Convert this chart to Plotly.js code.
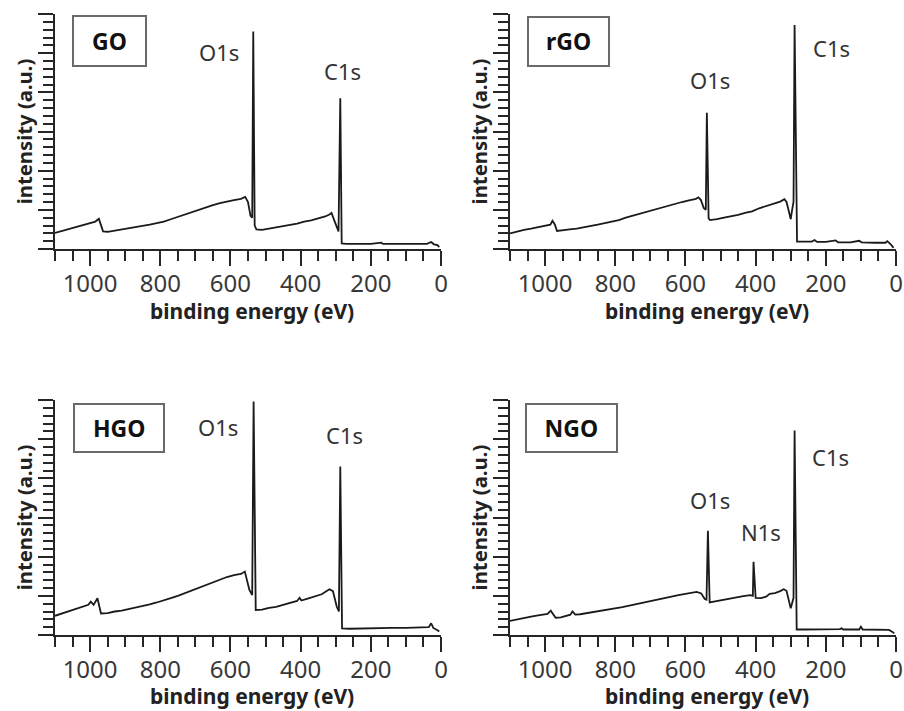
<!DOCTYPE html>
<html>
<head>
<meta charset="utf-8">
<script src="https://cdn.plot.ly/plotly-3.0.1.min.js"></script>
<style>html,body{margin:0;padding:0;background:#fff;}#chart{width:904px;height:711px;}</style>
</head>
<body>
<div id="chart"></div>
<script>
// ---- data (binding energy in eV, intensity in arbitrary units) ----
const goE = [1100,1080,1060,1040,1020,1000,985,975,968,963,950,930,910,890,870,850,830,810,790,770,750,730,710,690,670,650,630,610,590,570,558,550,543,538,535,531,526,510,490,470,450,430,410,390,370,350,330,318,312,305,297,292,287,283,270,240,200,170,165,120,80,40,28,20,10,5];
const goI = [0.41,0.46,0.50,0.55,0.60,0.66,0.70,0.77,0.60,0.45,0.44,0.47,0.50,0.52,0.55,0.58,0.62,0.66,0.70,0.76,0.82,0.90,0.96,1.02,1.07,1.12,1.17,1.22,1.25,1.28,1.33,1.20,0.85,0.80,5.55,0.60,0.50,0.49,0.52,0.55,0.58,0.62,0.65,0.70,0.73,0.78,0.83,0.88,0.92,0.75,0.55,0.45,3.85,0.14,0.13,0.13,0.13,0.16,0.13,0.13,0.13,0.13,0.18,0.12,0.10,0.05];

const rgoE = [1100,1080,1060,1040,1020,1000,985,979,972,966,950,930,910,890,870,850,830,810,790,770,750,730,710,690,670,650,630,610,590,570,563,556,548,542,539,534,530,510,490,470,450,430,410,390,370,350,330,318,312,305,300,296,292,289,282,270,240,232,225,200,172,165,130,105,98,60,30,25,15,7];
const rgoI = [0.40,0.45,0.49,0.52,0.55,0.58,0.62,0.72,0.62,0.46,0.47,0.50,0.52,0.55,0.58,0.62,0.66,0.70,0.74,0.80,0.85,0.90,0.96,1.01,1.06,1.10,1.15,1.20,1.24,1.28,1.32,1.25,1.05,1.00,3.48,0.78,0.74,0.76,0.80,0.83,0.87,0.92,0.96,1.04,1.10,1.15,1.21,1.27,1.20,0.95,0.76,1.00,1.20,5.72,0.19,0.19,0.19,0.23,0.18,0.18,0.22,0.17,0.17,0.21,0.17,0.16,0.16,0.20,0.12,0.03];

const hgoE = [1100,1080,1060,1040,1020,1005,998,990,979,975,969,950,930,910,890,870,850,830,810,790,770,750,730,710,690,670,650,630,610,590,570,559,555,546,538,534,528,510,490,470,450,430,410,403,398,380,360,340,318,308,297,291,287,282,260,220,180,140,100,60,35,28,22,10,5];
const hgoI = [0.49,0.55,0.61,0.66,0.72,0.77,0.85,0.77,0.94,0.80,0.55,0.56,0.60,0.62,0.66,0.69,0.74,0.78,0.83,0.88,0.94,1.00,1.07,1.14,1.22,1.29,1.36,1.42,1.48,1.53,1.56,1.62,1.49,1.15,1.02,5.96,0.64,0.65,0.69,0.72,0.77,0.82,0.87,0.95,0.88,0.93,0.98,1.04,1.17,1.12,0.72,0.60,4.30,0.17,0.16,0.17,0.17,0.18,0.18,0.19,0.20,0.30,0.18,0.12,0.09];

const ngoE = [1100,1080,1060,1040,1020,993,984,977,970,955,941,928,922,914,900,880,860,840,820,800,780,760,740,720,700,680,660,640,620,600,580,568,555,545,540,536,531,515,495,475,455,435,415,408,406,400,385,370,360,345,330,320,312,305,300,295,292,289,283,260,200,160,155,150,105,100,95,60,30,20,10,5];
const ngoI = [0.36,0.40,0.44,0.47,0.50,0.54,0.62,0.52,0.44,0.45,0.48,0.52,0.60,0.52,0.53,0.56,0.58,0.61,0.64,0.68,0.71,0.75,0.79,0.83,0.87,0.91,0.95,0.99,1.02,1.05,1.07,1.10,1.06,0.92,0.90,2.66,0.83,0.86,0.88,0.93,0.96,0.99,1.02,1.00,1.87,0.95,0.94,0.98,1.05,1.07,1.12,1.17,1.13,0.90,0.68,0.85,0.95,5.22,0.14,0.14,0.14,0.15,0.17,0.14,0.14,0.21,0.14,0.13,0.14,0.13,0.08,0.04];

const sampleNames = ["GO","rGO","HGO","NGO"];
const xTickVals = [0,200,400,600,800,1000];
const xTickText = ["0","200","400","600","800","1000"];
const xTitle = "binding energy (eV)";
const yTitle = "intensity (a.u.)";
// peak labels: [panel index, text, energy, intensity]
const peakLabels = [
  [0,"O1s",634,5.03],[0,"C1s",282,4.55],
  [1,"O1s",531,4.31],[1,"C1s",183,5.13],
  [2,"O1s",636,5.32],[2,"C1s",276,5.10],
  [3,"O1s",530,3.45],[3,"N1s",386,2.64],[3,"C1s",187,4.55]
];

// ---- layout ----
const W = 904, H = 711;
const FONT = "Noto Sans, Open Sans, DejaVu Sans, sans-serif";
const xDom = [[55,441],[510,896],[55,441],[510,896]];
const yDom = [[14,249],[14,249],[400,635],[400,635]];
const boxes = [[71.7,15,146.7,66.7],[526.7,16,610,66.7],[72.7,402.7,165,452.7],[525,402.7,617.7,452.7]];
const xTitlePos = [[252,311],[707,311],[252,696],[707,696]];

const series = [[goE,goI],[rgoE,rgoI],[hgoE,hgoI],[ngoE,ngoI]];
const traces = series.map((s,i)=>({
  type:'scatter', mode:'lines', x:s[0], y:s[1],
  xaxis: i===0?'x':'x'+(i+1), yaxis: i===0?'y':'y'+(i+1),
  line:{color:'#1a1a1a', width:1.8}, name:sampleNames[i], showlegend:false, hoverinfo:'x+y'
}));

const layout = {
  width:W, height:H, margin:{l:0,r:0,t:0,b:0},
  paper_bgcolor:'#fff', plot_bgcolor:'#fff',
  font:{family:FONT, color:'#333', size:22},
  showlegend:false, annotations:[]
};
const axc = '#262626';
for (let i=0;i<4;i++){
  const sx = i===0?'':String(i+1);
  layout['xaxis'+sx] = {
    domain:[xDom[i][0]/W, xDom[i][1]/W], range:[1100,0], anchor:'y'+sx,
    showgrid:false, zeroline:false, showline:true, linecolor:axc, linewidth:2,
    ticks:'outside', ticklen:15, tickwidth:2, tickcolor:axc,
    tickvals:xTickVals, ticktext:xTickText, ticklabelstandoff:-3,
    tickfont:{family:FONT, size:24, color:'#383838'},
    minor:{ticks:'outside', ticklen:10, tickwidth:2, tickcolor:axc, dtick:50, tick0:0, showgrid:false}
  };
  layout['yaxis'+sx] = {
    domain:[1-yDom[i][1]/H, 1-yDom[i][0]/H], range:[0,6], anchor:'x'+sx,
    showgrid:false, zeroline:false, showline:true, linecolor:axc, linewidth:2,
    ticks:'outside', ticklen:15, tickwidth:2, tickcolor:axc, dtick:1, tick0:0,
    showticklabels:false,
    minor:{ticks:'outside', ticklen:10, tickwidth:2, tickcolor:axc, dtick:0.2, tick0:0, showgrid:false},
    title:{text:'<b>'+yTitle+'</b>', font:{family:FONT, size:20.3, color:'#222'}, standoff:0}
  };
  // x-axis title
  layout.annotations.push({
    xref:'paper', yref:'paper', x:xTitlePos[i][0]/W, y:1-xTitlePos[i][1]/H,
    xanchor:'center', yanchor:'middle', showarrow:false, borderpad:0,
    text:'<b>'+xTitle+'</b>', font:{family:FONT, size:21, color:'#222'}
  });
  const b = boxes[i];
  layout.annotations.push({
    xref:'paper', yref:'paper', x:(b[0]+b[2])/2/W, y:1-(b[1]+b[3])/2/H,
    xanchor:'center', yanchor:'middle', showarrow:false,
    text:'<b>'+sampleNames[i]+'</b>', font:{family:FONT, size:23, color:'#111'},
    width:b[2]-b[0]-4, height:b[3]-b[1]-4, borderpad:0,
    bordercolor:'#6a6a6a', borderwidth:2, bgcolor:'#fff'
  });
}
peakLabels.forEach(p=>{
  const sx = p[0]===0?'':String(p[0]+1);
  layout.annotations.push({
    xref:'x'+sx, yref:'y'+sx, x:p[2], y:p[3], text:p[1], showarrow:false,
    xanchor:'center', yanchor:'middle', font:{family:FONT, size:22, color:'#333'}
  });
});

Plotly.newPlot('chart', traces, layout, {displayModeBar:false, staticPlot:true});
</script>
</body>
</html>
